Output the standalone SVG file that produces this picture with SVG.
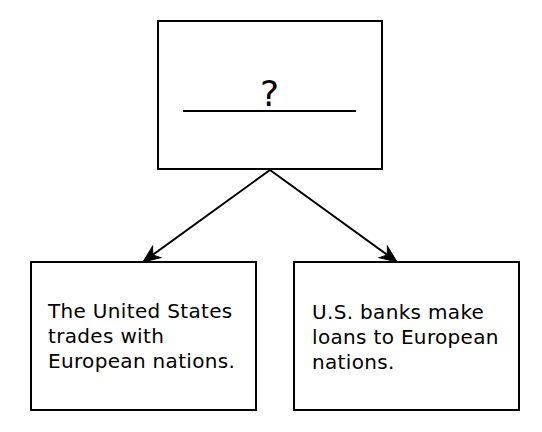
<svg xmlns="http://www.w3.org/2000/svg" width="542" height="432" viewBox="0 0 542 432">
<style>
.box{fill:#fff;stroke:#000;stroke-width:2}
.t{font-family:"DejaVu Sans",Verdana,sans-serif;font-size:20px;letter-spacing:0.33px;fill:#000}
.c{fill:none;stroke:#000;stroke-width:2}
</style>
<defs>
<marker id="arr" markerUnits="userSpaceOnUse" markerWidth="40" markerHeight="40" orient="auto" refX="0" refY="0" viewBox="-20 -20 40 40" overflow="visible">
<path d="M4,0 L-13,-7 L-8,0 L-13,7 Z" fill="#000" stroke="#000" stroke-width="1"/>
</marker>
</defs>
<rect width="542" height="432" fill="#fff"/>
<g id="top">
<rect class="box" x="158" y="21" width="224" height="148"/>
<text x="269.5" y="106" text-anchor="middle" style="font-family:'DejaVu Sans',Verdana,sans-serif;font-size:36px">?</text>
<line x1="183" y1="111" x2="356" y2="111" stroke="#000" stroke-width="2"/>
</g>
<g id="left">
<rect class="box" x="31" y="262" width="225" height="148"/>
<text class="t" x="48" y="318">The United States</text>
<text class="t" x="48" y="343">trades with</text>
<text class="t" x="48" y="368">European nations.</text>
</g>
<g id="right">
<rect class="box" x="294" y="262" width="225" height="148"/>
<text class="t" x="312" y="319">U.S. banks make</text>
<text class="t" x="312" y="344">loans to European</text>
<text class="t" x="312" y="369">nations.</text>
</g>
<g id="connectors">
<line class="c" x1="270" y1="170" x2="146.2" y2="259.6" marker-end="url(#arr)"/>
<line class="c" x1="270" y1="170" x2="393.8" y2="259.6" marker-end="url(#arr)"/>
</g>
</svg>
